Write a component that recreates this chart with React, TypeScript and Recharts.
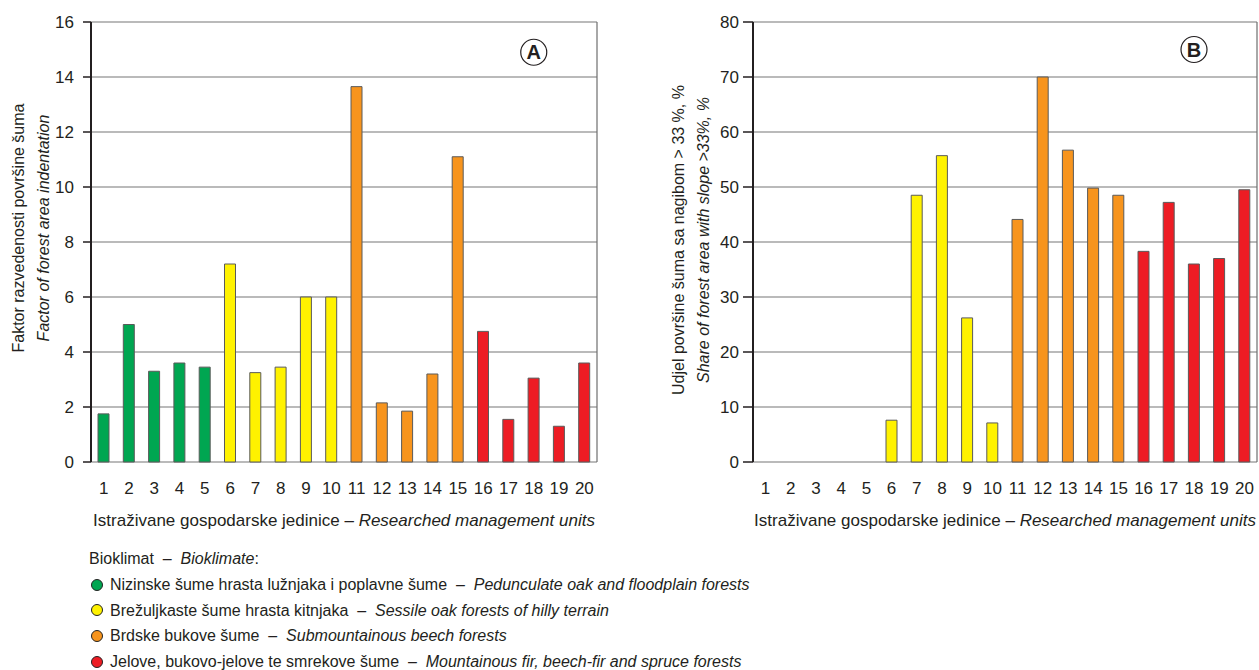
import React from 'react';
import { Bar, BarChart, CartesianGrid, Cell, Label, ReferenceDot, XAxis, YAxis } from 'recharts';

const units = [1, 2, 3, 4, 5, 6, 7, 8, 9, 10, 11, 12, 13, 14, 15, 16, 17, 18, 19, 20];
const indentation = [1.75, 5.0, 3.3, 3.6, 3.45, 7.2, 3.25, 3.45, 6.0, 6.0, 13.65, 2.15, 1.85, 3.2, 11.1, 4.75, 1.55, 3.05, 1.3, 3.6];
const slopeShare = [0, 0, 0, 0, 0, 7.6, 48.5, 55.7, 26.2, 7.1, 44.1, 70, 56.7, 49.8, 48.5, 38.3, 47.2, 36, 37, 49.5];
const bioclimateOf = [0, 0, 0, 0, 0, 1, 1, 1, 1, 1, 2, 2, 2, 2, 2, 3, 3, 3, 3, 3];
const boundaries = [0.5, 5.5, 10.5, 15.5, 20.5];
const ticksA = [0, 2, 4, 6, 8, 10, 12, 14, 16];
const ticksB = [0, 10, 20, 30, 40, 50, 60, 70, 80];

const bioColors = ['#00a651', '#fff200', '#f7941d', '#ed1c24'];
const bioHr = [
  'Nizinske šume hrasta lužnjaka i poplavne šume',
  'Brežuljkaste šume hrasta kitnjaka',
  'Brdske bukove šume',
  'Jelove, bukovo-jelove te smrekove šume',
];
const bioEn = [
  'Pedunculate oak and floodplain forests',
  'Sessile oak forests of hilly terrain',
  'Submountainous beech forests',
  'Mountainous fir, beech-fir and spruce forests',
];

const FONT = "'Liberation Sans Narrow', 'Liberation Sans', Arial, sans-serif";
const INK = '#231f20';
const DASH = '\u00a0\u00a0–\u00a0\u00a0';

const dataA = units.map((u, i) => ({ unit: u, value: indentation[i], bio: bioclimateOf[i] }));
const dataB = units.map((u, i) => ({ unit: u, value: slopeShare[i], bio: bioclimateOf[i] }));

function YTitle({ viewBox, hr, en, x1, x2, shift }: any) {
  const cy = viewBox.y + viewBox.height / 2 + shift;
  return (
    <g fontFamily={FONT} fontSize={16} fill={INK}>
      <text x={x1} y={cy} textAnchor="middle" transform={`rotate(-90 ${x1} ${cy})`}>{hr}</text>
      <text x={x2} y={cy} textAnchor="middle" fontStyle="italic" transform={`rotate(-90 ${x2} ${cy})`}>{en}</text>
    </g>
  );
}

function XTitle({ viewBox }: any) {
  const cx = viewBox.x + viewBox.width / 2;
  return (
    <text x={cx} y={viewBox.y + 64} textAnchor="middle" fontFamily={FONT} fontSize={17} fill={INK}>
      Istraživane gospodarske jedinice – <tspan fontStyle="italic">Researched management units</tspan>
    </text>
  );
}

function Panel({ data, ticks, max, letter, letterY, hr, en, width, yWidth, right, yTick, yGap, x1, x2, shift }: any) {
  return (
    <BarChart width={width} height={540} data={data} margin={{ top: 22, right, left: 0, bottom: 0 }}>
      <CartesianGrid xAxisId="main" vertical={false} stroke="#a3a3a3" strokeWidth={1.5} />
      <CartesianGrid xAxisId="main" horizontal={false} stroke="#6e6e6e" strokeWidth={1.2} />
      <XAxis
        xAxisId="main"
        dataKey="unit"
        type="number"
        domain={[0.5, 20.5]}
        ticks={boundaries}
        tick={false}
        height={0}
        tickSize={7}
        axisLine={{ stroke: INK, strokeWidth: 2 }}
        tickLine={{ stroke: INK, strokeWidth: 2 }}
      />
      <XAxis
        xAxisId="lab"
        dataKey="unit"
        type="number"
        domain={[0.5, 20.5]}
        ticks={units}
        interval={0}
        height={78}
        axisLine={false}
        tickLine={false}
        tickMargin={14}
        tick={{ fill: INK, fontSize: 17, fontFamily: FONT }}
      >
        <Label content={<XTitle />} />
      </XAxis>
      <YAxis
        type="number"
        domain={[0, max]}
        ticks={ticks}
        interval={0}
        width={yWidth}
        tickSize={yTick}
        tickMargin={yGap}
        axisLine={{ stroke: INK, strokeWidth: 2 }}
        tickLine={{ stroke: INK, strokeWidth: 1.5 }}
        tick={{ fill: INK, fontSize: 17, fontFamily: FONT }}
      >
        <Label content={<YTitle hr={hr} en={en} x1={x1} x2={x2} shift={shift} />} />
      </YAxis>
      <Bar dataKey="value" xAxisId="main" barSize={11} stroke="#5a5a5a" strokeWidth={1} isAnimationActive={false}>
        {data.map((d: any, i: number) => (
          <Cell key={i} fill={bioColors[d.bio]} />
        ))}
      </Bar>
      <ReferenceDot
        xAxisId="main"
        x={18}
        y={letterY}
        r={13}
        fill="#fff"
        stroke={INK}
        strokeWidth={1.2}
        ifOverflow="visible"
      >
        <Label value={letter} position="center" fill={INK} fontSize={20} fontWeight="bold" fontFamily={FONT} />
      </ReferenceDot>
    </BarChart>
  );
}

export default function App() {
  return (
    <div style={{ position: 'absolute', left: 0, top: 0, width: 1259, height: 670, background: '#fff', fontFamily: FONT, color: INK }}>
      <div style={{ position: 'absolute', left: 0, top: 0 }}>
        <Panel
          data={dataA}
          ticks={ticksA}
          max={16}
          letter="A"
          letterY={14.9}
          hr="Faktor razvedenosti površine šuma"
          en="Factor of forest area indentation"
          width={620}
          yWidth={91}
          right={23}
          yTick={8}
          yGap={9}
          x1={24}
          x2={49}
          shift={-14}
        />
      </div>
      <div style={{ position: 'absolute', left: 640, top: 0 }}>
        <Panel
          data={dataB}
          ticks={ticksB}
          max={80}
          letter="B"
          letterY={75}
          hr="Udjel površine šuma sa nagibom > 33 %, %"
          en="Share of forest area with slope  >33%, %"
          width={619}
          yWidth={113}
          right={2}
          yTick={10}
          yGap={4}
          x1={44}
          x2={69}
          shift={-2}
        />
      </div>
      <div style={{ position: 'absolute', left: 89, top: 546, fontSize: 16, lineHeight: '25.8px' }}>
        <div>
          Bioklimat{DASH}<i>Bioklimate</i>:
        </div>
        {bioColors.map((c, i) => (
          <div key={i} style={{ display: 'flex', alignItems: 'center' }}>
            <span
              style={{
                display: 'inline-block',
                width: 10,
                height: 10,
                borderRadius: '50%',
                background: c,
                border: '1px solid #222',
                margin: '0 7px 0 2px',
              }}
            />
            <span>
              {bioHr[i]}
              {DASH}
              <i>{bioEn[i]}</i>
            </span>
          </div>
        ))}
      </div>
    </div>
  );
}
